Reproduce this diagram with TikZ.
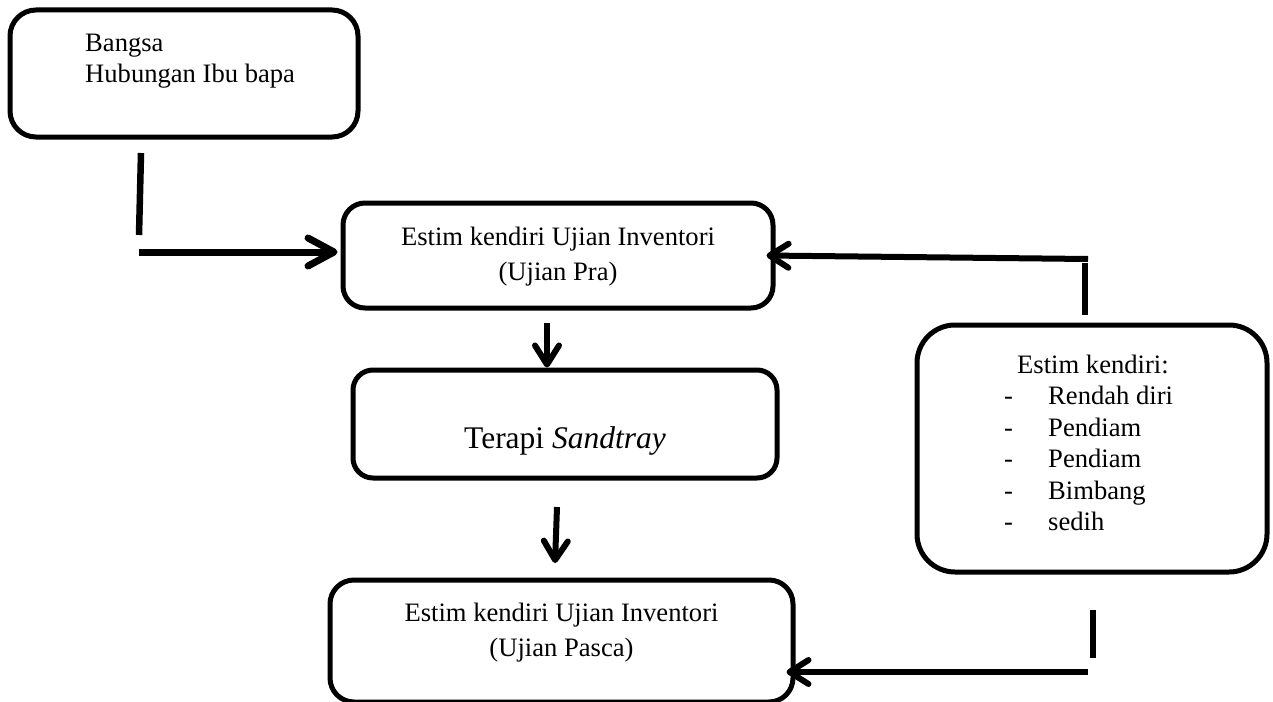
\documentclass[tikz,border=0pt]{standalone}
\usepackage{fontspec}
\setmainfont{Liberation Serif}
\usetikzlibrary{arrows.meta}
\begin{document}
\begin{tikzpicture}[x=1pt,y=-1pt,
  box/.style={draw, line width=5pt, rounded corners=#1, inner sep=0pt},
  box/.default=24pt,
  txt/.style={font=\fontsize{26.6}{35}\selectfont, inner sep=0pt},
  seg/.style={line width=6.5pt},
  arr/.style={line width=6pt, -{Straight Barb[length=19pt,width=24pt,round]}},
  bigarr/.style={line width=7pt, -{Straight Barb[length=26pt,width=28pt,round]}}
]
\useasboundingbox (0,0) rectangle (1273,701);

% boxes
\node[box=26pt, minimum width=348pt, minimum height=127pt] (src) at (184,73.5) {};
\node[anchor=base west, inner sep=0pt, font=\fontsize{26.6}{31}\selectfont] (srcT) at (85,52)
  {\begin{tabular}[t]{@{}l@{}}Bangsa\\Hubungan Ibu bapa\end{tabular}};

\node[box=22pt, minimum width=430pt, minimum height=105pt] (pra) at (558,255.5) {};
\node[txt, anchor=base] (praT) at (558,245)
  {\begin{tabular}[t]{@{}c@{}}Estim kendiri Ujian Inventori\\(Ujian Pra)\end{tabular}};

\node[box=20pt, minimum width=424pt, minimum height=108pt] (ter) at (565,424) {};
\node[font=\fontsize{31.5}{36}\selectfont, inner sep=0pt, anchor=base] (terT) at (565,448)
  {Terapi \textit{Sandtray}};

\node[box=24pt, minimum width=463pt, minimum height=122pt] (post) at (561.5,641) {};
\node[txt, anchor=base] (postT) at (561.5,621)
  {\begin{tabular}[t]{@{}c@{}}Estim kendiri Ujian Inventori\\(Ujian Pasca)\end{tabular}};

\node[box=38pt, minimum width=350pt, minimum height=247pt] (feat) at (1092,448.5) {};
\node[anchor=base west, inner sep=0pt, font=\fontsize{26.6}{31.5}\selectfont] (featT) at (1004,373)
  {\begin{tabular}[t]{@{}l@{}}\hspace*{13pt}Estim kendiri:\\
   \makebox[44pt][l]{-}Rendah diri\\
   \makebox[44pt][l]{-}Pendiam\\
   \makebox[44pt][l]{-}Pendiam\\
   \makebox[44pt][l]{-}Bimbang\\
   \makebox[44pt][l]{-}sedih\end{tabular}};

% connectors
\coordinate (a1s) at (141,153);
\coordinate (a1e) at (139,235);
\draw[seg] (a1s) -- (a1e);
\coordinate (a2s) at (139,252);
\draw[bigarr, shorten >=3pt] (a2s) -- (a2s -| pra.west);

\coordinate (b1s) at (1085,315);
\coordinate (b1e) at (1085,263);
\draw[seg] (b1s) -- (b1e);
\coordinate (b2s) at (1088,259);
\path ([xshift=-9pt]pra.east) coordinate (b2t);
\draw[arr] (b2s) -- (b2t);

\coordinate (c1) at (547,323);
\draw[arr] (c1) -- (c1 |- ter.north);

\coordinate (d1) at (557,507);
\coordinate (d2) at (555,563);
\draw[arr] (d1) -- (d2);

\coordinate (e1s) at (1093,610);
\coordinate (e1e) at (1093,658);
\draw[seg] (e1s) -- (e1e);
\coordinate (e2s) at (1088,672);
\path ([xshift=-9pt]post.east) coordinate (e2t);
\draw[arr] (e2s) -- (e2t |- e2s);
\end{tikzpicture}
\end{document}
